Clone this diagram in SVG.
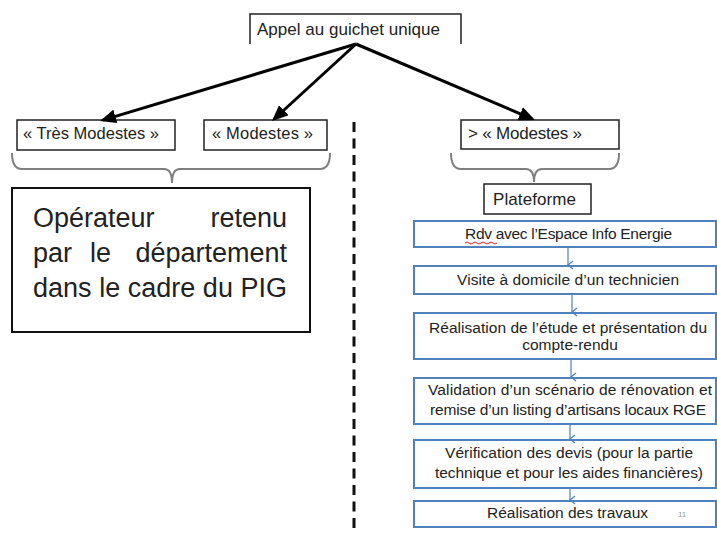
<svg xmlns="http://www.w3.org/2000/svg" width="717" height="533" viewBox="0 0 717 533">
<defs>
<style>
text{font-family:"Liberation Sans",Arial,sans-serif;fill:#222;}
.bk{fill:#fff;stroke:#222;stroke-width:1.5;}
.big{fill:#fff;stroke:#111;stroke-width:2;}
.bl{fill:#fff;stroke:#4f81bd;stroke-width:2;}
.t16{font-size:16.5px;}
.t17{font-size:17px;}
.t15{font-size:15.5px;}
.t27{font-size:27px;}
.brace{fill:none;stroke:#7f7f7f;stroke-width:2;}
.arr{fill:none;stroke:#000;stroke-width:3;marker-end:url(#ah);}
.barr{fill:none;stroke:#4f81bd;stroke-width:1.2;marker-end:url(#bh);}
</style>
<marker id="ah" markerUnits="userSpaceOnUse" markerWidth="18" markerHeight="14" refX="13" refY="7" orient="auto">
<path d="M0,0 L16,7 L0,14 z" fill="#000"/>
</marker>
<marker id="bh" markerUnits="userSpaceOnUse" markerWidth="10" markerHeight="10" refX="5" refY="8" orient="auto-start-reverse" viewBox="0 0 10 10">
<path d="M1,3 L5,8 L9,3" fill="none" stroke="#4f81bd" stroke-width="1.3"/>
</marker>
</defs>
<g id="divider">
<line x1="354" y1="122" x2="354" y2="533" stroke="#111" stroke-width="3" stroke-dasharray="10 6.5"/>
</g>
<g id="appel">
<path d="M250,44 L250,14 L461,14 L461,44" fill="none" stroke="#222" stroke-width="1.5"/>
<text class="t17" x="257" y="35" textLength="183">Appel au guichet unique</text>
</g>
<g id="tres-modestes">
<rect class="bk" x="17" y="120" width="158" height="30"/>
<text class="t16" x="23" y="139" textLength="136">« Très Modestes »</text>
</g>
<g id="modestes">
<rect class="bk" x="204" y="120" width="123" height="30"/>
<text class="t16" x="212" y="139" textLength="101">« Modestes »</text>
</g>
<g id="sup-modestes">
<rect class="bk" x="461" y="120" width="158" height="29"/>
<text class="t17" x="468" y="139" textLength="114">&gt; « Modestes »</text>
</g>
<g id="operateur">
<rect class="big" x="12" y="188" width="298" height="144"/>
<text class="t27" x="33" y="227">Opérateur</text>
<text class="t27" x="287" y="227" text-anchor="end">retenu</text>
<text class="t27" x="33" y="262">par</text>
<text class="t27" x="90" y="262">le</text>
<text class="t27" x="287" y="262" text-anchor="end">département</text>
<text class="t27" x="33" y="297" textLength="254">dans le cadre du PIG</text>
</g>
<g id="plateforme">
<rect class="bk" x="484" y="184" width="107" height="30"/>
<text class="t17" x="493" y="205" textLength="83">Plateforme</text>
</g>
<g id="step1">
<rect class="bl" x="414" y="221" width="302" height="26"/>
<text class="t15" x="465" y="239" textLength="207">Rdv avec l’Espace Info Energie</text>
<path d="M465,243 q2,-2 4,0 t4,0 t4,0 t4,0 t4,0 t4,0 t4,0 t4,0" fill="none" stroke="#e02020" stroke-width="1"/>
</g>
<g id="step2">
<rect class="bl" x="414" y="266" width="302" height="28"/>
<text class="t15" x="457" y="285" textLength="222">Visite à domicile d’un technicien</text>
</g>
<g id="step3">
<rect class="bl" x="414" y="313" width="302" height="46"/>
<text class="t15" x="429" y="333" textLength="278">Réalisation de l’étude et présentation du</text>
<text class="t15" x="570" y="350" text-anchor="middle">compte-rendu</text>
</g>
<g id="step4">
<rect class="bl" x="414" y="378" width="302" height="46"/>
<text class="t15" x="428" y="395" textLength="284">Validation d’un scénario de rénovation et</text>
<text class="t15" x="430" y="415" textLength="276">remise d’un listing d’artisans locaux RGE</text>
</g>
<g id="step5">
<rect class="bl" x="414" y="440" width="302" height="48"/>
<text class="t15" x="445" y="458" textLength="248">Vérification des devis (pour la partie</text>
<text class="t15" x="435" y="478" textLength="268">technique et pour les aides financières)</text>
</g>
<g id="step6">
<rect class="bl" x="414" y="501" width="302" height="26"/>
<text class="t15" x="487" y="518">Réalisation des travaux</text>
<text x="678" y="517" font-size="8" style="fill:#9a9a9a">11</text>
</g>
<g id="connectors">
<path class="arr" d="M356,44 L102.9,120.1"/>
<path class="arr" d="M356,44 L274.2,119"/>
<path class="arr" d="M356,44 L532.2,118.8"/>
<path class="brace" d="M12,153 Q12,169 22,169 L164,169 Q172,169 172,183 Q172,169 180,169 L320,169 Q330,169 330,153"/>
<path class="brace" d="M451,153 Q451,169 461,169 L526,169 Q534,169 534,182 Q534,169 542,169 L609,169 Q619,169 619,153"/>
<path class="barr" d="M568,247 L568,265"/>
<path class="barr" d="M572,294 L572,312"/>
<path class="barr" d="M571,359 L571,377"/>
<path class="barr" d="M570,424 L570,439"/>
<path class="barr" d="M570,488 L570,500"/>
</g>
</svg>
